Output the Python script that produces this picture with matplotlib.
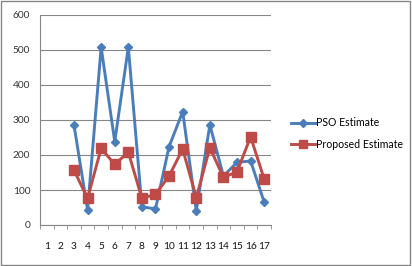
import matplotlib
matplotlib.use("Agg")
import matplotlib.pyplot as plt
from matplotlib.patches import Rectangle

categories = list(range(1, 18))
pso_x = [3, 4, 5, 6, 7, 8, 9, 10, 11, 12, 13, 14, 15, 16, 17]
pso = [286, 43, 508, 238, 508, 52, 46, 224, 324, 41, 286, 140, 179, 183, 65]
prop_x = [3, 4, 5, 6, 7, 8, 9, 10, 11, 12, 13, 14, 15, 16, 17]
prop = [157, 76, 219, 173, 208, 76, 88, 140, 217, 78, 221, 136, 152, 252, 131]
yticks = [0, 100, 200, 300, 400, 500, 600]

plt.rcParams['font.family'] = ['Lato', 'DejaVu Sans']

fig = plt.figure(figsize=(4.12, 2.66), dpi=100)
ax = fig.add_axes([40/412, 1-225/266, 231/412, 210/266])

ax.plot(pso_x, pso, color='#4A7EBB', lw=2.1, marker='D', ms=4.5, label='PSO Estimate', zorder=3)
ax.plot(prop_x, prop, color='#BE4B48', lw=2.1, marker='s', ms=6.5, label='Proposed Estimate', zorder=4)

ax.set_xlim(0.5, 17.5)
ax.set_ylim(0, 600)
ax.set_yticks(yticks)
ax.set_yticklabels([str(v) for v in yticks], fontsize=7.3, color='#333333')
ax.set_xticks(categories)
ax.set_xticklabels([str(c) for c in categories], fontsize=7.3, color='#111111')
ax.set_xticks([c + 0.5 for c in range(0, 18)], minor=True)
ax.tick_params(axis='x', which='major', length=0, pad=12)
ax.tick_params(axis='x', which='minor', length=3, color='#868686', direction='out')
ax.tick_params(axis='y', length=0, pad=7)
ax.grid(axis='y', color='#868686', lw=0.8)
ax.set_axisbelow(True)
for s in ['top', 'right']:
    ax.spines[s].set_visible(False)
ax.spines['left'].set_color('#868686')
ax.spines['bottom'].set_color('#868686')

leg = fig.legend(loc='center left', bbox_to_anchor=(281/412, 1-133.5/266), frameon=False,
                 fontsize=7.6, handlelength=2.3, labelspacing=1.0, handletextpad=0.15,
                 markerscale=0.8)

fig.patches.append(Rectangle((0.002, 0.004), 0.994, 0.992, transform=fig.transFigure,
                             fill=False, edgecolor='#868686', lw=1.0))

fig.savefig('out.png', dpi=100)
